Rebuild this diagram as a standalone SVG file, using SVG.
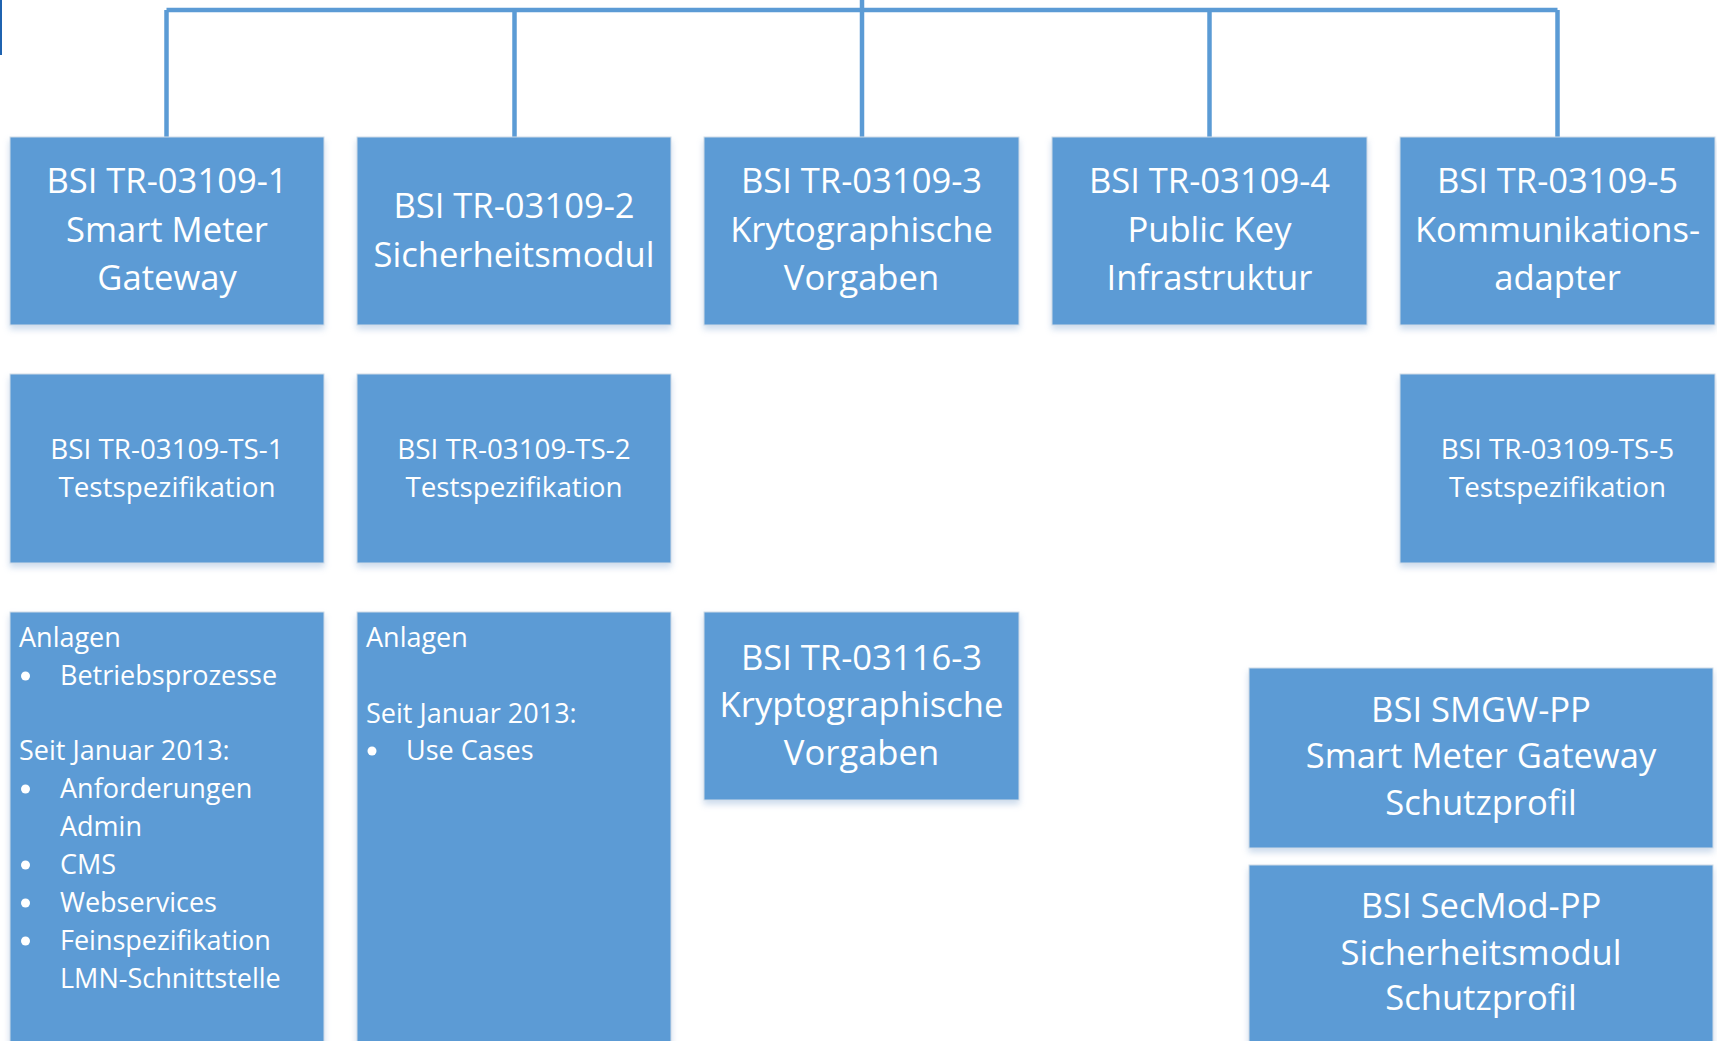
<svg xmlns="http://www.w3.org/2000/svg" width="1717" height="1041" viewBox="0 0 1717 1041">
  <defs>
    <filter id="sh" x="-5%" y="-5%" width="110%" height="115%">
      <feDropShadow dx="0" dy="4" stdDeviation="3" flood-color="#8fb0d6" flood-opacity="0.45"/>
    </filter>
    <style>
      .box { fill: #5B9BD5; stroke: #d0dbe8; stroke-width: 1; filter: url(#sh); }
      .conn { stroke: #5B9BD5; stroke-width: 4.5; fill: none; }
      text { font-family: "Open Sans", "Noto Sans", sans-serif; fill: #ffffff; }
      .big { font-size: 34.6px; text-anchor: middle; }
      .mid { font-size: 27.8px; text-anchor: middle; }
      .lst { font-size: 27px; }
      .bul { fill: #ffffff; }
    </style>
  </defs>
  <rect width="1717" height="1041" fill="#ffffff"/>
  <rect x="0" y="0" width="2" height="55" fill="#1F63B0"/>

  <g id="connectors">
    <path class="conn" d="M862 0 V10"/>
    <path class="conn" d="M166.5 10 H1557.5"/>
    <path class="conn" d="M166.5 10 V137"/>
    <path class="conn" d="M514.5 10 V137"/>
    <path class="conn" d="M862 10 V137"/>
    <path class="conn" d="M1209.5 10 V137"/>
    <path class="conn" d="M1557.5 10 V137"/>
  </g>

  <g id="tr1">
    <rect class="box" x="10" y="137" width="314" height="188"/>
    <text class="big" x="167" y="193">BSI TR-03109-1</text>
    <text class="big" x="167" y="242">Smart Meter</text>
    <text class="big" x="167" y="290">Gateway</text>
  </g>
  <g id="tr2">
    <rect class="box" x="357" y="137" width="314" height="188"/>
    <text class="big" x="514" y="218">BSI TR-03109-2</text>
    <text class="big" x="514" y="267">Sicherheitsmodul</text>
  </g>
  <g id="tr3">
    <rect class="box" x="704" y="137" width="315" height="188"/>
    <text class="big" x="861.5" y="193">BSI TR-03109-3</text>
    <text class="big" x="861.5" y="242">Krytographische</text>
    <text class="big" x="861.5" y="290">Vorgaben</text>
  </g>
  <g id="tr4">
    <rect class="box" x="1052" y="137" width="315" height="188"/>
    <text class="big" x="1209.5" y="193">BSI TR-03109-4</text>
    <text class="big" x="1209.5" y="242">Public Key</text>
    <text class="big" x="1209.5" y="290">Infrastruktur</text>
  </g>
  <g id="tr5">
    <rect class="box" x="1400" y="137" width="315" height="188"/>
    <text class="big" x="1557.5" y="193">BSI TR-03109-5</text>
    <text class="big" x="1557.5" y="242">Kommunikations-</text>
    <text class="big" x="1557.5" y="290">adapter</text>
  </g>

  <g id="ts1">
    <rect class="box" x="10" y="374" width="314" height="189"/>
    <text class="mid" x="167" y="459">BSI TR-03109-TS-1</text>
    <text class="mid" x="167" y="497">Testspezifikation</text>
  </g>
  <g id="ts2">
    <rect class="box" x="357" y="374" width="314" height="189"/>
    <text class="mid" x="514" y="459">BSI TR-03109-TS-2</text>
    <text class="mid" x="514" y="497">Testspezifikation</text>
  </g>
  <g id="ts5">
    <rect class="box" x="1400" y="374" width="315" height="189"/>
    <text class="mid" x="1557.5" y="459">BSI TR-03109-TS-5</text>
    <text class="mid" x="1557.5" y="497">Testspezifikation</text>
  </g>

  <g id="anlagen1">
    <rect class="box" x="10" y="612" width="314" height="450"/>
    <text class="lst" x="19" y="647">Anlagen</text>
    <circle class="bul" cx="25.5" cy="676" r="4.5"/>
    <text class="lst" x="60" y="685">Betriebsprozesse</text>
    <text class="lst" x="19" y="760">Seit Januar 2013:</text>
    <circle class="bul" cx="25.5" cy="789" r="4.5"/>
    <text class="lst" x="60" y="798">Anforderungen</text>
    <text class="lst" x="60" y="836">Admin</text>
    <circle class="bul" cx="25.5" cy="865" r="4.5"/>
    <text class="lst" x="60" y="874">CMS</text>
    <circle class="bul" cx="25.5" cy="903" r="4.5"/>
    <text class="lst" x="60" y="912">Webservices</text>
    <circle class="bul" cx="25.5" cy="941" r="4.5"/>
    <text class="lst" x="60" y="950">Feinspezifikation</text>
    <text class="lst" x="60" y="988">LMN-Schnittstelle</text>
  </g>
  <g id="anlagen2">
    <rect class="box" x="357" y="612" width="314" height="450"/>
    <text class="lst" x="366" y="647">Anlagen</text>
    <text class="lst" x="366" y="723">Seit Januar 2013:</text>
    <circle class="bul" cx="372" cy="751" r="4.5"/>
    <text class="lst" x="406" y="760">Use Cases</text>
  </g>

  <g id="tr03116">
    <rect class="box" x="704" y="612" width="315" height="188"/>
    <text class="big" x="861.5" y="670">BSI TR-03116-3</text>
    <text class="big" x="861.5" y="717">Kryptographische</text>
    <text class="big" x="861.5" y="765">Vorgaben</text>
  </g>

  <g id="smgwpp">
    <rect class="box" x="1249" y="668" width="464" height="180"/>
    <text class="big" x="1481" y="722">BSI SMGW-PP</text>
    <text class="big" x="1481" y="768">Smart Meter Gateway</text>
    <text class="big" x="1481" y="815">Schutzprofil</text>
  </g>
  <g id="secmodpp">
    <rect class="box" x="1249" y="865" width="464" height="200"/>
    <text class="big" x="1481" y="918">BSI SecMod-PP</text>
    <text class="big" x="1481" y="965">Sicherheitsmodul</text>
    <text class="big" x="1481" y="1010">Schutzprofil</text>
  </g>
</svg>
